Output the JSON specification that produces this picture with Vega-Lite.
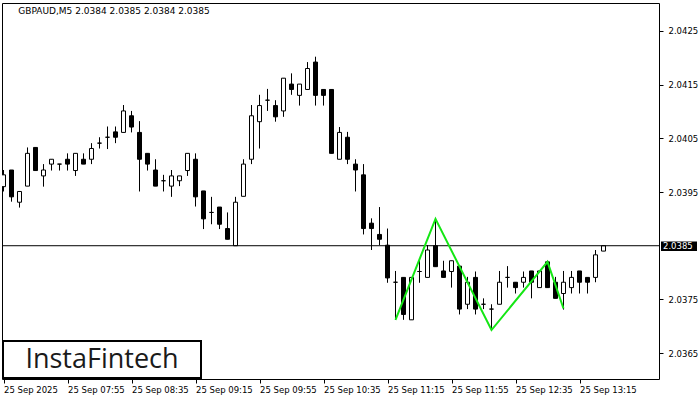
{
  "$schema": "https://vega.github.io/schema/vega-lite/v6.json",
  "width": 657,
  "height": 376,
  "autosize": {"type": "none"},
  "padding": {"left": 2, "top": 3, "right": 41, "bottom": 21},
  "background": "white",
  "config": {
    "view": {"stroke": "black", "strokeWidth": 1},
    "font": "DejaVu Sans",
    "axis": {"grid": false, "domain": false, "tickColor": "black", "labelColor": "black", "labelFont": "DejaVu Sans", "labelFontSize": 8.5, "title": null}
  },
  "datasets": {
    "candles": [
      {"i": 0, "o": 2.03960, "h": 2.03991, "l": 2.03951, "c": 2.03982},
      {"i": 1, "o": 2.03991, "h": 2.03991, "l": 2.03932, "c": 2.03941},
      {"i": 2, "o": 2.03931, "h": 2.03951, "l": 2.03921, "c": 2.03951},
      {"i": 3, "o": 2.03961, "h": 2.04033, "l": 2.03961, "c": 2.04022},
      {"i": 4, "o": 2.04033, "h": 2.04033, "l": 2.03990, "c": 2.03990},
      {"i": 5, "o": 2.03980, "h": 2.04002, "l": 2.03960, "c": 2.03991},
      {"i": 6, "o": 2.04002, "h": 2.04011, "l": 2.03990, "c": 2.04011},
      {"i": 7, "o": 2.04002, "h": 2.04002, "l": 2.03990, "c": 2.04002},
      {"i": 8, "o": 2.04011, "h": 2.04022, "l": 2.03990, "c": 2.04002},
      {"i": 9, "o": 2.03990, "h": 2.04022, "l": 2.03980, "c": 2.04022},
      {"i": 10, "o": 2.04011, "h": 2.04022, "l": 2.04002, "c": 2.04002},
      {"i": 11, "o": 2.04011, "h": 2.04041, "l": 2.04002, "c": 2.04031},
      {"i": 12, "o": 2.04041, "h": 2.04052, "l": 2.04031, "c": 2.04041},
      {"i": 13, "o": 2.04052, "h": 2.04072, "l": 2.04030, "c": 2.04052},
      {"i": 14, "o": 2.04062, "h": 2.04072, "l": 2.04041, "c": 2.04052},
      {"i": 15, "o": 2.04061, "h": 2.04112, "l": 2.04061, "c": 2.04101},
      {"i": 16, "o": 2.04092, "h": 2.04101, "l": 2.04061, "c": 2.04071},
      {"i": 17, "o": 2.04061, "h": 2.04082, "l": 2.03951, "c": 2.04011},
      {"i": 18, "o": 2.04022, "h": 2.04022, "l": 2.03990, "c": 2.04002},
      {"i": 19, "o": 2.03991, "h": 2.04011, "l": 2.03961, "c": 2.03961},
      {"i": 20, "o": 2.03971, "h": 2.03982, "l": 2.03951, "c": 2.03971},
      {"i": 21, "o": 2.03961, "h": 2.03991, "l": 2.03941, "c": 2.03980},
      {"i": 22, "o": 2.03971, "h": 2.03980, "l": 2.03961, "c": 2.03980},
      {"i": 23, "o": 2.03990, "h": 2.04022, "l": 2.03980, "c": 2.04022},
      {"i": 24, "o": 2.04011, "h": 2.04022, "l": 2.03923, "c": 2.03941},
      {"i": 25, "o": 2.03952, "h": 2.03952, "l": 2.03881, "c": 2.03900},
      {"i": 26, "o": 2.03912, "h": 2.03941, "l": 2.03890, "c": 2.03912},
      {"i": 27, "o": 2.03922, "h": 2.03922, "l": 2.03881, "c": 2.03890},
      {"i": 28, "o": 2.03882, "h": 2.03912, "l": 2.03862, "c": 2.03862},
      {"i": 29, "o": 2.03850, "h": 2.03941, "l": 2.03850, "c": 2.03931},
      {"i": 30, "o": 2.03942, "h": 2.04011, "l": 2.03942, "c": 2.04002},
      {"i": 31, "o": 2.04011, "h": 2.04112, "l": 2.04002, "c": 2.04092},
      {"i": 32, "o": 2.04081, "h": 2.04131, "l": 2.04031, "c": 2.04111},
      {"i": 33, "o": 2.04121, "h": 2.04142, "l": 2.04101, "c": 2.04121},
      {"i": 34, "o": 2.04111, "h": 2.04121, "l": 2.04081, "c": 2.04090},
      {"i": 35, "o": 2.04101, "h": 2.04162, "l": 2.04090, "c": 2.04162},
      {"i": 36, "o": 2.04151, "h": 2.04171, "l": 2.04131, "c": 2.04141},
      {"i": 37, "o": 2.04130, "h": 2.04151, "l": 2.04111, "c": 2.04151},
      {"i": 38, "o": 2.04141, "h": 2.04192, "l": 2.04141, "c": 2.04180},
      {"i": 39, "o": 2.04192, "h": 2.04202, "l": 2.04111, "c": 2.04130},
      {"i": 40, "o": 2.04141, "h": 2.04141, "l": 2.04111, "c": 2.04130},
      {"i": 41, "o": 2.04141, "h": 2.04141, "l": 2.04022, "c": 2.04022},
      {"i": 42, "o": 2.04011, "h": 2.04071, "l": 2.04011, "c": 2.04061},
      {"i": 43, "o": 2.04052, "h": 2.04062, "l": 2.04002, "c": 2.04011},
      {"i": 44, "o": 2.04002, "h": 2.04011, "l": 2.03951, "c": 2.03991},
      {"i": 45, "o": 2.03982, "h": 2.04002, "l": 2.03871, "c": 2.03882},
      {"i": 46, "o": 2.03892, "h": 2.03901, "l": 2.03842, "c": 2.03882},
      {"i": 47, "o": 2.03871, "h": 2.03922, "l": 2.03851, "c": 2.03862},
      {"i": 48, "o": 2.03851, "h": 2.03882, "l": 2.03781, "c": 2.03790},
      {"i": 49, "o": 2.03782, "h": 2.03803, "l": 2.03712, "c": 2.03782},
      {"i": 50, "o": 2.03791, "h": 2.03791, "l": 2.03712, "c": 2.03722},
      {"i": 51, "o": 2.03712, "h": 2.03791, "l": 2.03712, "c": 2.03791},
      {"i": 52, "o": 2.03802, "h": 2.03822, "l": 2.03781, "c": 2.03802},
      {"i": 53, "o": 2.03791, "h": 2.03851, "l": 2.03791, "c": 2.03842},
      {"i": 54, "o": 2.03850, "h": 2.03900, "l": 2.03811, "c": 2.03811},
      {"i": 55, "o": 2.03803, "h": 2.03822, "l": 2.03791, "c": 2.03791},
      {"i": 56, "o": 2.03802, "h": 2.03822, "l": 2.03772, "c": 2.03822},
      {"i": 57, "o": 2.03812, "h": 2.03812, "l": 2.03722, "c": 2.03732},
      {"i": 58, "o": 2.03741, "h": 2.03792, "l": 2.03732, "c": 2.03782},
      {"i": 59, "o": 2.03791, "h": 2.03802, "l": 2.03722, "c": 2.03732},
      {"i": 60, "o": 2.03741, "h": 2.03752, "l": 2.03732, "c": 2.03741},
      {"i": 61, "o": 2.03732, "h": 2.03741, "l": 2.03693, "c": 2.03732},
      {"i": 62, "o": 2.03741, "h": 2.03803, "l": 2.03741, "c": 2.03782},
      {"i": 63, "o": 2.03791, "h": 2.03812, "l": 2.03772, "c": 2.03791},
      {"i": 64, "o": 2.03782, "h": 2.03782, "l": 2.03761, "c": 2.03772},
      {"i": 65, "o": 2.03782, "h": 2.03802, "l": 2.03772, "c": 2.03791},
      {"i": 66, "o": 2.03803, "h": 2.03803, "l": 2.03752, "c": 2.03782},
      {"i": 67, "o": 2.03772, "h": 2.03803, "l": 2.03772, "c": 2.03803},
      {"i": 68, "o": 2.03820, "h": 2.03822, "l": 2.03772, "c": 2.03772},
      {"i": 69, "o": 2.03782, "h": 2.03792, "l": 2.03752, "c": 2.03752},
      {"i": 70, "o": 2.03761, "h": 2.03803, "l": 2.03731, "c": 2.03782},
      {"i": 71, "o": 2.03772, "h": 2.03803, "l": 2.03761, "c": 2.03791},
      {"i": 72, "o": 2.03803, "h": 2.03803, "l": 2.03761, "c": 2.03782},
      {"i": 73, "o": 2.03791, "h": 2.03791, "l": 2.03761, "c": 2.03782},
      {"i": 74, "o": 2.03791, "h": 2.03842, "l": 2.03782, "c": 2.03833},
      {"i": 75, "o": 2.03840, "h": 2.03850, "l": 2.03840, "c": 2.03850}
    ],
    "pattern": [
      {"i": 49, "p": 2.03712},
      {"i": 54, "p": 2.03900},
      {"i": 61, "p": 2.03693},
      {"i": 68, "p": 2.03820},
      {"i": 70, "p": 2.03733}
    ]
  },
  "layer": [
    {
      "data": {"name": "candles"},
      "mark": {"type": "rule", "color": "black", "strokeWidth": 1, "clip": true},
      "encoding": {
        "x": {"field": "i", "type": "quantitative", "title": null,
              "scale": {"domain": [-0.1875, 81.9375], "nice": false, "zero": false, "padding": 0},
              "axis": {"orient": "bottom", "values": [0, 8, 16, 24, 32, 40, 48, 56, 64, 72], "tickSize": 4, "labelAlign": "left", "labelPadding": 2, "labelFlush": false, "labelOverlap": false,
                       "labelExpr": "datum.value == 0 ? '25 Sep 2025' : timeFormat(datetime(2025, 8, 25, 7, 15 + 5 * datum.value), '%d %b %H:%M')"}},
        "y": {"field": "l", "type": "quantitative", "title": null,
              "scale": {"domain": [2.036018, 2.04302], "nice": false, "zero": false, "padding": 0},
              "axis": {"orient": "right", "values": [2.0365, 2.0375, 2.0395, 2.0405, 2.0415, 2.0425], "format": ".4f", "tickSize": 4, "labelPadding": 5, "labelBaseline": "middle"}},
        "y2": {"field": "h"}
      }
    },
    {
      "data": {"name": "candles"},
      "mark": {"type": "bar", "width": 4, "stroke": "black", "strokeWidth": 1, "clip": true},
      "encoding": {
        "x": {"field": "i", "type": "quantitative"},
        "y": {"field": "o", "type": "quantitative"},
        "y2": {"field": "c"},
        "fill": {"condition": {"test": "datum.c > datum.o", "value": "white"}, "value": "black"}
      }
    },
    {
      "data": {"values": [{}]},
      "mark": {"type": "rule", "color": "black", "strokeWidth": 1},
      "encoding": {"y": {"datum": 2.0385, "title": null}}
    },
    {
      "data": {"name": "pattern"},
      "mark": {"type": "line", "color": "#14e614", "strokeWidth": 2},
      "encoding": {
        "x": {"field": "i", "type": "quantitative"},
        "y": {"field": "p", "type": "quantitative"}
      }
    },
    {
      "data": {"values": [{}]},
      "mark": {"type": "rect", "fill": "white", "stroke": "black", "strokeWidth": 2},
      "encoding": {
        "x": {"datum": -0.0625}, "x2": {"datum": 24.6875},
        "y": {"datum": 2.036725}, "y2": {"datum": 2.036036}
      }
    },
    {
      "data": {"values": [{}]},
      "mark": {"type": "text", "text": "InstaFintech", "font": "Open Sans", "fontSize": 27, "fontWeight": 500, "color": "#1a1a1a", "align": "center", "baseline": "middle"},
      "encoding": {"x": {"datum": 12.3125}, "y": {"datum": 2.036381}}
    },
    {
      "data": {"values": [{}]},
      "mark": {"type": "rect", "fill": "black", "clip": false},
      "encoding": {
        "x": {"datum": 82.1875}, "x2": {"datum": 86.6875},
        "y": {"datum": 2.038578}, "y2": {"datum": 2.038401}
      }
    },
    {
      "data": {"values": [{}]},
      "mark": {"type": "text", "text": "2.0385", "font": "DejaVu Sans", "fontSize": 8.5, "color": "white", "align": "left", "baseline": "middle"},
      "encoding": {"x": {"datum": 82.4375}, "y": {"datum": 2.03849}}
    },
    {
      "data": {"values": [{}]},
      "mark": {"type": "text", "text": "GBPAUD,M5  2.0384 2.0385 2.0384 2.0385", "font": "DejaVu Sans", "fontSize": 9, "color": "black", "align": "left", "baseline": "middle"},
      "encoding": {"x": {"datum": 1.85}, "y": {"datum": 2.042871}}
    }
  ]
}
